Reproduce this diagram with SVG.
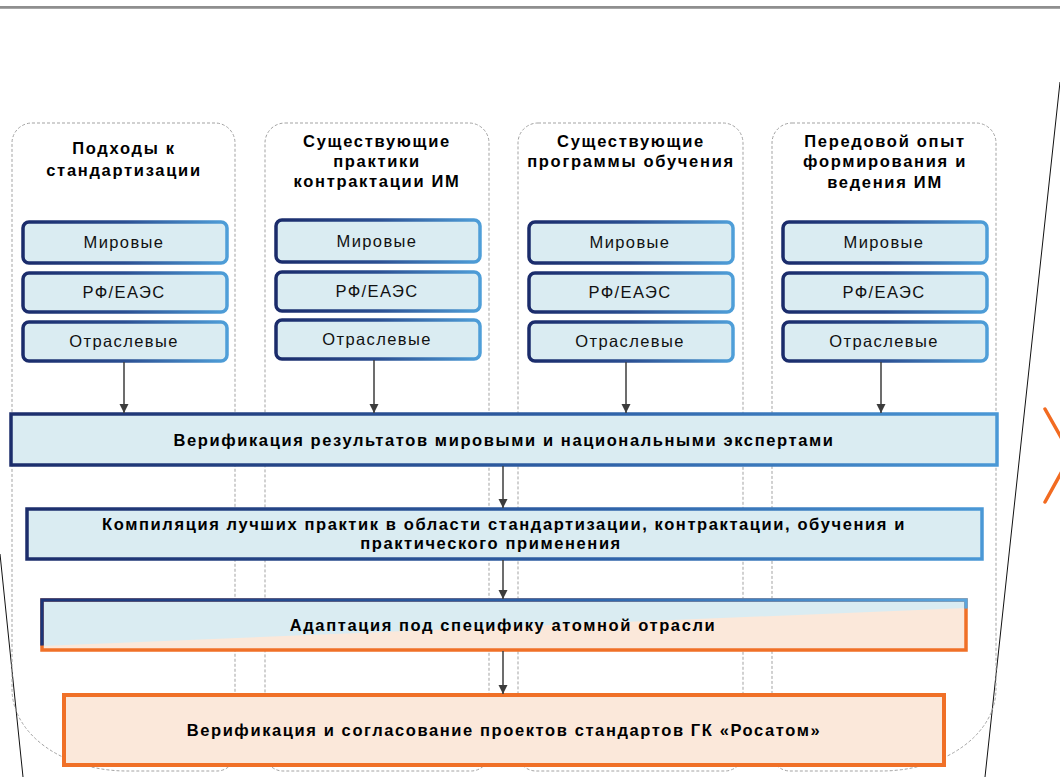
<svg xmlns="http://www.w3.org/2000/svg" width="1060" height="777" viewBox="0 0 1060 777">
  <defs>
    <linearGradient id="blueStroke" x1="0" y1="0" x2="1" y2="0">
      <stop offset="0" stop-color="#1a2b6a"/>
      <stop offset="0.5" stop-color="#2b4f92"/>
      <stop offset="1" stop-color="#4f9fd9"/>
    </linearGradient>
    <linearGradient id="wideStroke" x1="0" y1="0" x2="1" y2="0">
      <stop offset="0" stop-color="#1c2d6b"/>
      <stop offset="0.6" stop-color="#2f62a8"/>
      <stop offset="1" stop-color="#4a98d6"/>
    </linearGradient>
    <linearGradient id="adaptStroke" x1="0" y1="0" x2="1" y2="0">
      <stop offset="0" stop-color="#1c3478"/>
      <stop offset="0.6" stop-color="#2f66ad"/>
      <stop offset="1" stop-color="#5aa6de"/>
    </linearGradient>
    <clipPath id="adaptBlue">
      <polygon points="30,588 980,588 980,608 30,646"/>
    </clipPath>
    <marker id="arrow" viewBox="0 0 10 10" refX="10" refY="5" markerWidth="9" markerHeight="10" markerUnits="userSpaceOnUse" orient="auto">
      <path d="M0,0 L10,5 L0,10 Z" fill="#3c3c3c"/>
    </marker>
    <style>
      .col { fill: none; stroke: #a3a3a3; stroke-width: 1; stroke-dasharray: 3 2; }
      .head { font-family: "Liberation Sans", Arial, sans-serif; font-weight: bold; font-size: 16.5px; letter-spacing: 1.7px; text-anchor: middle; fill: #000; }
      .item { fill: #daecf2; stroke: url(#blueStroke); stroke-width: 3.5; }
      .itemText { font-family: "Liberation Sans", Arial, sans-serif; font-size: 16.5px; letter-spacing: 1.4px; text-anchor: middle; fill: #111; }
      .wide { fill: #daecf2; stroke: url(#wideStroke); stroke-width: 3.5; }
      .boxText { font-family: "Liberation Sans", Arial, sans-serif; font-weight: bold; font-size: 16.5px; letter-spacing: 1.6px; text-anchor: middle; fill: #000; }
      .conn { stroke: #3c3c3c; stroke-width: 1.5; fill: none; marker-end: url(#arrow); }
      .edge { stroke: #111; stroke-width: 1; fill: none; }
    </style>
  </defs>

  <rect width="1060" height="777" fill="#ffffff"/>

  <!-- top rule -->
  <line x1="0" y1="7" x2="1060" y2="7" stroke="#6a6a6a" stroke-width="1.5"/>
  <line x1="0" y1="8.5" x2="1060" y2="8.5" stroke="#a8a8a8" stroke-width="1"/>

  <!-- side edges and chevron -->
  <line class="edge" x1="0" y1="554" x2="23" y2="777"/>
  <line class="edge" x1="1060" y1="82" x2="985" y2="777"/>
  <polyline points="1045,409 1071,455 1045,502" fill="none" stroke="#f26b21" stroke-width="3.5" stroke-linecap="round"/>

  <!-- dashed column frames -->
  <g id="columns">
    <path class="col" d="M32 123 H215 A20 20 0 0 1 235 143 V753 A18 18 0 0 1 217 771 H127 A115 82 0 0 1 12 689 V143 A20 20 0 0 1 32 123 Z"/>
    <path class="col" d="M285 123 H469 A20 20 0 0 1 489 143 V753 A18 18 0 0 1 471 771 H283 A18 18 0 0 1 265 753 V143 A20 20 0 0 1 285 123 Z"/>
    <path class="col" d="M538 123 H723 A20 20 0 0 1 743 143 V753 A18 18 0 0 1 725 771 H536 A18 18 0 0 1 518 753 V143 A20 20 0 0 1 538 123 Z"/>
    <path class="col" d="M792 123 H976 A20 20 0 0 1 996 143 V689 A115 82 0 0 1 881 771 H790 A18 18 0 0 1 772 753 V143 A20 20 0 0 1 792 123 Z"/>
  </g>

  <!-- column 1 -->
  <g id="col1">
    <text class="head" x="124" y="154">Подходы к</text>
    <text class="head" x="124" y="176">стандартизации</text>
    <rect class="item" x="23" y="222" width="204" height="41" rx="6"/>
    <text class="itemText" x="124" y="248">Мировые</text>
    <rect class="item" x="23" y="273" width="204" height="39" rx="6"/>
    <text class="itemText" x="124" y="298">РФ/ЕАЭС</text>
    <rect class="item" x="23" y="322" width="204" height="39" rx="6"/>
    <text class="itemText" x="124" y="347">Отраслевые</text>
  </g>

  <!-- column 2 -->
  <g id="col2">
    <text class="head" x="377" y="147">Существующие</text>
    <text class="head" x="377" y="167">практики</text>
    <text class="head" x="377" y="187">контрактации ИМ</text>
    <rect class="item" x="276" y="220" width="204" height="42" rx="6"/>
    <text class="itemText" x="377" y="247">Мировые</text>
    <rect class="item" x="276" y="272" width="204" height="39" rx="6"/>
    <text class="itemText" x="377" y="297">РФ/ЕАЭС</text>
    <rect class="item" x="276" y="320" width="204" height="39" rx="6"/>
    <text class="itemText" x="377" y="345">Отраслевые</text>
  </g>

  <!-- column 3 -->
  <g id="col3">
    <text class="head" x="631" y="147">Существующие</text>
    <text class="head" x="631" y="167">программы обучения</text>
    <rect class="item" x="529" y="222" width="204" height="41" rx="6"/>
    <text class="itemText" x="630" y="248">Мировые</text>
    <rect class="item" x="529" y="273" width="204" height="39" rx="6"/>
    <text class="itemText" x="630" y="298">РФ/ЕАЭС</text>
    <rect class="item" x="529" y="322" width="204" height="39" rx="6"/>
    <text class="itemText" x="630" y="347">Отраслевые</text>
  </g>

  <!-- column 4 -->
  <g id="col4">
    <text class="head" x="885" y="147">Передовой опыт</text>
    <text class="head" x="885" y="167">формирования и</text>
    <text class="head" x="885" y="188">ведения ИМ</text>
    <rect class="item" x="783" y="222" width="204" height="41" rx="6"/>
    <text class="itemText" x="884" y="248">Мировые</text>
    <rect class="item" x="783" y="273" width="204" height="39" rx="6"/>
    <text class="itemText" x="884" y="298">РФ/ЕАЭС</text>
    <rect class="item" x="783" y="322" width="204" height="39" rx="6"/>
    <text class="itemText" x="884" y="347">Отраслевые</text>
  </g>

  <!-- expert verification -->
  <g id="verify">
    <rect class="wide" x="11" y="414" width="986" height="51"/>
    <text class="boxText" x="504" y="446">Верификация результатов мировыми и национальными экспертами</text>
  </g>

  <!-- best practice compilation -->
  <g id="compile">
    <rect class="wide" x="27" y="509" width="955" height="50"/>
    <text class="boxText" x="504" y="530">Компиляция лучших практик в области стандартизации, контрактации, обучения и</text>
    <text class="boxText" x="491" y="549">практического применения</text>
  </g>

  <!-- adaptation to the nuclear industry -->
  <g id="adapt">
    <rect x="42" y="600" width="924" height="50" fill="#fbe8da"/>
    <polygon points="42,600 966,600 966,608 42,646" fill="#daecf2"/>
    <rect x="42" y="600" width="924" height="50" fill="none" stroke="#f07027" stroke-width="3.5"/>
    <rect x="42" y="600" width="924" height="50" fill="none" stroke="url(#adaptStroke)" stroke-width="3.5" clip-path="url(#adaptBlue)"/>
    <text class="boxText" x="503" y="631">Адаптация под специфику атомной отрасли</text>
  </g>

  <!-- Rosatom standards approval -->
  <g id="approve">
    <rect x="64" y="695" width="880" height="70" fill="#fbe8da" stroke="#f07027" stroke-width="4"/>
    <text class="boxText" x="504" y="736">Верификация и согласование проектов стандартов ГК «Росатом»</text>
  </g>

  <!-- connectors -->
  <g id="connectors">
    <line class="conn" x1="124" y1="362" x2="124" y2="413"/>
    <line class="conn" x1="374" y1="360" x2="374" y2="413"/>
    <line class="conn" x1="626" y1="362" x2="626" y2="413"/>
    <line class="conn" x1="881" y1="362" x2="881" y2="413"/>
    <line class="conn" x1="503" y1="466" x2="503" y2="508"/>
    <line class="conn" x1="503" y1="560" x2="503" y2="599"/>
    <line class="conn" x1="503" y1="651" x2="503" y2="694"/>
  </g>
</svg>
